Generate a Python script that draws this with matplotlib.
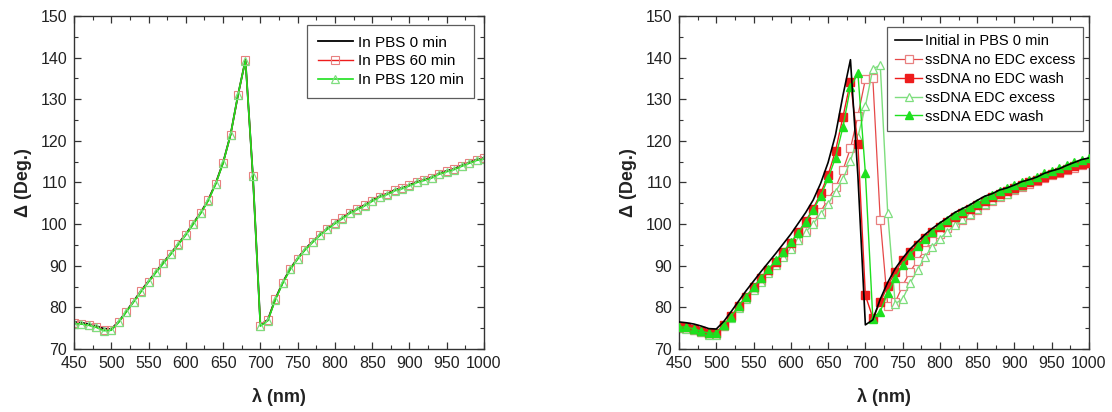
import matplotlib
matplotlib.use("Agg")
import matplotlib.pyplot as plt
from matplotlib.ticker import MultipleLocator

plt.rcParams['font.family'] = ['Liberation Sans', 'DejaVu Sans']

# wavelength grid (nm)
wavelength = [450, 460, 470, 480, 490, 500, 510, 520, 530, 540, 550, 560, 570, 580,
              590, 600, 610, 620, 630, 640, 650, 660, 670, 680, 690, 700, 710, 720,
              730, 740, 750, 760, 770, 780, 790, 800, 810, 820, 830, 840, 850, 860,
              870, 880, 890, 900, 910, 920, 930, 940, 950, 960, 970, 980, 990, 1000]

# left panel: sample kept in PBS
pbs_0 = [76.5, 76.3, 76.0, 75.5, 74.9, 74.8, 76.6, 79.0, 81.5, 84.0, 86.3, 88.6, 90.8, 93.0,
         95.3, 97.6, 100.2, 102.8, 105.8, 109.8, 114.8, 121.5, 131.0, 139.5, 111.5, 75.8, 77.0, 82.0,
         86.0, 89.3, 91.8, 94.0, 95.8, 97.5, 99.0, 100.3, 101.5, 102.8, 103.7, 104.6, 105.7, 106.7,
         107.3, 108.2, 108.7, 109.4, 110.2, 110.7, 111.3, 112.2, 112.8, 113.3, 114.1, 114.8, 115.5, 115.9]
pbs_60 = [76.2, 76.0, 75.7, 75.3, 74.5, 74.6, 76.5, 78.9, 81.4, 83.9, 86.2, 88.5, 90.7, 92.9,
          95.2, 97.5, 100.1, 102.7, 105.7, 109.7, 114.7, 121.4, 131.0, 139.4, 111.5, 75.6, 76.9, 81.9,
          85.9, 89.2, 91.7, 93.9, 95.7, 97.4, 98.9, 100.2, 101.4, 102.7, 103.6, 104.5, 105.6, 106.6,
          107.2, 108.1, 108.6, 109.3, 110.1, 110.6, 111.2, 112.1, 112.7, 113.2, 114.0, 114.7, 115.4, 115.8]
pbs_120 = [76.1, 76.0, 75.7, 75.2, 74.4, 74.5, 76.4, 78.9, 81.3, 83.8, 86.1, 88.4, 90.6, 92.8,
           95.1, 97.4, 100.0, 102.6, 105.6, 109.6, 114.7, 121.4, 131.1, 139.3, 111.6, 75.5, 76.8, 81.8,
           85.8, 89.1, 91.6, 93.8, 95.6, 97.3, 98.8, 100.1, 101.3, 102.6, 103.5, 104.4, 105.5, 106.5,
           107.1, 108.0, 108.5, 109.2, 110.0, 110.5, 111.1, 112.0, 112.6, 113.1, 113.9, 114.6, 115.3, 115.7]

# right panel: ssDNA immobilisation
initial = pbs_0
no_edc_excess = [75.0, 75.0, 74.5, 74.0, 73.5, 73.5, 75.6, 77.6, 80.0, 82.2, 84.3, 86.4, 88.4, 90.4,
                 92.3, 94.3, 96.3, 98.4, 100.4, 103.0, 106.0, 108.8, 113.0, 118.2, 126.0, 134.8, 135.0, 101.0,
                 80.3, 81.2, 85.2, 88.6, 91.2, 93.9, 96.0, 97.7, 99.0, 100.2, 101.1, 102.2, 103.5, 104.7,
                 105.5, 106.6, 107.2, 108.2, 109.0, 109.7, 110.4, 111.1, 111.7, 112.3, 113.0, 113.6, 114.2, 114.6]
no_edc_wash = [75.3, 75.2, 74.8, 74.3, 73.8, 73.9, 75.8, 77.9, 80.3, 82.6, 84.8, 87.0, 89.0, 91.0,
               93.2, 95.5, 98.0, 100.8, 103.7, 107.4, 111.8, 117.6, 125.8, 134.2, 119.2, 82.9, 77.5, 81.2,
               85.2, 88.5, 91.3, 93.3, 95.0, 96.6, 98.0, 99.3, 100.6, 101.8, 102.7, 103.6, 104.6, 105.6,
               106.4, 107.3, 107.9, 108.6, 109.4, 110.0, 110.7, 111.4, 112.0, 112.6, 113.3, 113.9, 114.4, 114.8]
edc_excess = [75.0, 74.9, 74.5, 74.0, 73.4, 73.4, 75.5, 77.5, 79.9, 82.0, 84.1, 86.2, 88.2, 90.2,
              92.1, 94.1, 96.1, 98.1, 100.1, 102.4, 104.8, 107.8, 110.8, 115.2, 121.0, 128.3, 137.3, 138.2,
              102.6, 80.9, 82.0, 85.8, 89.0, 92.2, 94.6, 96.5, 98.2, 99.8, 101.2, 102.4, 103.6, 104.8,
              105.7, 106.8, 107.3, 108.4, 109.2, 110.0, 110.7, 111.5, 112.1, 112.8, 113.6, 114.4, 115.0, 115.5]
edc_wash = [75.3, 75.3, 74.8, 74.3, 73.8, 73.8, 75.8, 77.8, 80.3, 82.6, 84.8, 87.0, 89.2, 91.3,
            93.4, 95.6, 97.9, 100.6, 103.4, 106.7, 111.0, 116.0, 123.4, 132.9, 136.2, 112.3, 77.3, 79.0,
            83.5, 87.0, 90.2, 92.7, 94.7, 96.5, 98.2, 99.7, 101.0, 102.2, 103.1, 104.1, 105.1, 106.1,
            107.0, 108.0, 108.6, 109.3, 110.1, 110.7, 111.4, 112.2, 112.8, 113.4, 114.2, 114.9, 115.4, 115.8]

RED = '#ee1c1c'
RED_LIGHT = '#e88080'
GREEN = '#1ee01e'
GREEN_LIGHT = '#7ede7e'

fig = plt.figure(figsize=(11.12, 4.12), dpi=100)
ax1 = fig.add_axes([74 / 1112, 63 / 412, 410 / 1112, 333 / 412])
ax2 = fig.add_axes([679 / 1112, 63 / 412, 410 / 1112, 333 / 412])


def style_axes(ax):
    ax.set_xlim(450, 1000)
    ax.set_ylim(70, 150)
    ax.xaxis.set_major_locator(MultipleLocator(50))
    ax.xaxis.set_minor_locator(MultipleLocator(25))
    ax.yaxis.set_major_locator(MultipleLocator(10))
    ax.yaxis.set_minor_locator(MultipleLocator(5))
    ax.tick_params(which='both', direction='in', top=True, right=True,
                   color='#333333', labelsize=11.5, labelcolor='#222222')
    ax.tick_params(which='major', length=5, width=0.9, pad=5)
    ax.tick_params(which='minor', length=3, width=0.8)
    for s in ax.spines.values():
        s.set_color('#333333')
        s.set_linewidth(1.0)
    ax.set_xlabel('λ (nm)', fontsize=13, fontweight='bold', labelpad=12, color='#222222')
    ax.set_ylabel('Δ (Deg.)', fontsize=13, fontweight='bold', labelpad=6, color='#222222')


# left panel: the green 120 min curve sits on top of the others
ax1.plot(wavelength, pbs_0, color='black', lw=1.3, label='In PBS 0 min', zorder=2)
ax1.plot(wavelength, pbs_60, color=RED, lw=1.0, marker='s', ms=5.5, mfc='none',
         mec=RED_LIGHT, mew=0.8, label='In PBS 60 min', zorder=2.2)
ax1.plot(wavelength, pbs_120, color=GREEN, lw=1.2, marker='^', ms=6, mfc='none',
         mec=GREEN_LIGHT, mew=0.9, label='In PBS 120 min', zorder=2.5)
style_axes(ax1)
leg1 = ax1.legend(loc='upper right', bbox_to_anchor=(0.976, 0.973), borderaxespad=0,
                  fontsize=11, frameon=True, fancybox=False, edgecolor='#333333',
                  handlelength=2.3, handletextpad=0.3, labelspacing=0.3, borderpad=0.7)
leg1.get_frame().set_linewidth(0.9)

# right panel
ax2.plot(wavelength, initial, color='black', lw=1.2, label='Initial in PBS 0 min', zorder=4)
ax2.plot(wavelength, no_edc_excess, color='#e64848', lw=0.9, marker='s', ms=5.5, mfc='white',
         mec=RED_LIGHT, mew=0.9, label='ssDNA no EDC excess', zorder=2)
ax2.plot(wavelength, no_edc_wash, color=RED, lw=1.0, marker='s', ms=5.5, mfc=RED,
         mec=RED, label='ssDNA no EDC wash', zorder=3)
ax2.plot(wavelength, edc_excess, color=GREEN_LIGHT, lw=1.0, marker='^', ms=6, mfc='white',
         mec=GREEN_LIGHT, mew=0.9, label='ssDNA EDC excess', zorder=2)
ax2.plot(wavelength, edc_wash, color=GREEN, lw=1.0, marker='^', ms=6, mfc=GREEN,
         mec=GREEN, label='ssDNA EDC wash', zorder=3)
style_axes(ax2)
leg2 = ax2.legend(loc='upper right', bbox_to_anchor=(0.985, 0.967), borderaxespad=0,
                  fontsize=10.5, frameon=True, fancybox=False, edgecolor='#333333',
                  handlelength=1.9, handletextpad=0.2, labelspacing=0.33, borderpad=0.5)
leg2.get_frame().set_linewidth(0.9)
leg2.set_zorder(10)

fig.savefig('out.png', dpi=100)
